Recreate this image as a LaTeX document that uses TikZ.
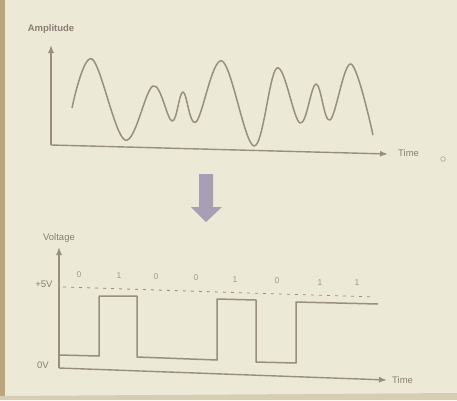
\documentclass[tikz,border=0pt]{standalone}
\usepackage{fontspec}
\setmainfont{Liberation Sans}
\usepackage{xcolor}
\usetikzlibrary{positioning,calc,arrows.meta}
\definecolor{slidebg}{HTML}{EDE9D7}
\definecolor{slideedge}{HTML}{B9A57E}
\definecolor{slidefoot}{HTML}{D6CDB2}
\definecolor{inkline}{HTML}{9A8E7E}
\definecolor{inktext}{HTML}{887E72}
\definecolor{arrowlilac}{HTML}{A79FB6}
\tikzset{
  axisline/.style={draw=inkline,line width=1.4pt,-{Latex[length=8pt,width=6pt]}},
  sigline/.style={draw=inkline,line width=1.5pt,line join=round},
  axlabel/.style={text=inktext,font=\fontsize{9.5}{11}\selectfont,inner sep=0pt},
  bitlabel/.style={text=inktext!80,font=\fontsize{8.5}{10}\selectfont,inner sep=0pt}
}

\begin{document}
\begin{tikzpicture}[x=1pt,y=-1pt]
  \useasboundingbox (0,0) rectangle (457,400);
  % slide
  \fill[slidebg] (0,0) rectangle (457,400);
  \fill[slideedge] (0,0) rectangle (5,400);
  \fill[slidefoot] (0,396) -- (457,393) -- (457,400) -- (0,400) -- cycle;
  % analog signal
  \coordinate (aorig) at (51,145);
  \coordinate (atop) at (51,45);
  \coordinate (aend) at (388,154);
  \draw[axisline] (aorig) -- (atop);
  \draw[axisline] (aorig) -- (aend);
  \node[axlabel,font=\fontsize{9.5}{11}\selectfont\bfseries] (amp) at (51,29) {Amplitude};
  \node[axlabel,anchor=west] (atime) at (398,153) {Time};
  \draw[inktext!70,line width=0.6pt] (443,159) circle (2.3pt);
  \draw[sigline] plot[smooth,tension=0.6] coordinates {
    (72,108) (92,59) (125,140) (153,86) (172,121) (183,92) (196,122)
    (222,61) (254,146) (277,68) (300,123) (316,84) (330,120) (351,64) (373,135)};
  % conversion arrow
  \fill[arrowlilac] (199,174) -- (213,174) -- (213,207) -- (222,207)
    -- (206,222) -- (191,207) -- (199,207) -- cycle;
  % digital signal
  \coordinate (dorig) at (59,368);
  \coordinate (dtop) at (59,247);
  \coordinate (dend) at (387,380);
  \draw[axisline] (dorig) -- (dtop);
  \draw[axisline] (dorig) -- (dend);
  \node[axlabel] (volt) at (59,238) {Voltage};
  \node[axlabel,anchor=west] (dtime) at (392,380) {Time};
  \node[axlabel] (hi) at (44,284) {+5V};
  \node[axlabel] (lo) at (43,365) {0V};
  \draw[inkline,line width=0.8pt,dash pattern=on 3pt off 5pt] (63,287) -- (375,297);
  \draw[sigline] (59,355) -- (99,356) -- (99,296) -- (137,296) -- (137,357)
    -- (217,360) -- (217,299) -- (256,300) -- (256,362) -- (296,363)
    -- (296,302) -- (378,304);
  \foreach \bx/\by/\bit in {79/275/0,119/276/1,156/277/0,196/278/0,
      235/280/1,277/281/0,320/283/1,357/283/1}
    \node[bitlabel] at (\bx,\by) {\bit};
\end{tikzpicture}
\end{document}
